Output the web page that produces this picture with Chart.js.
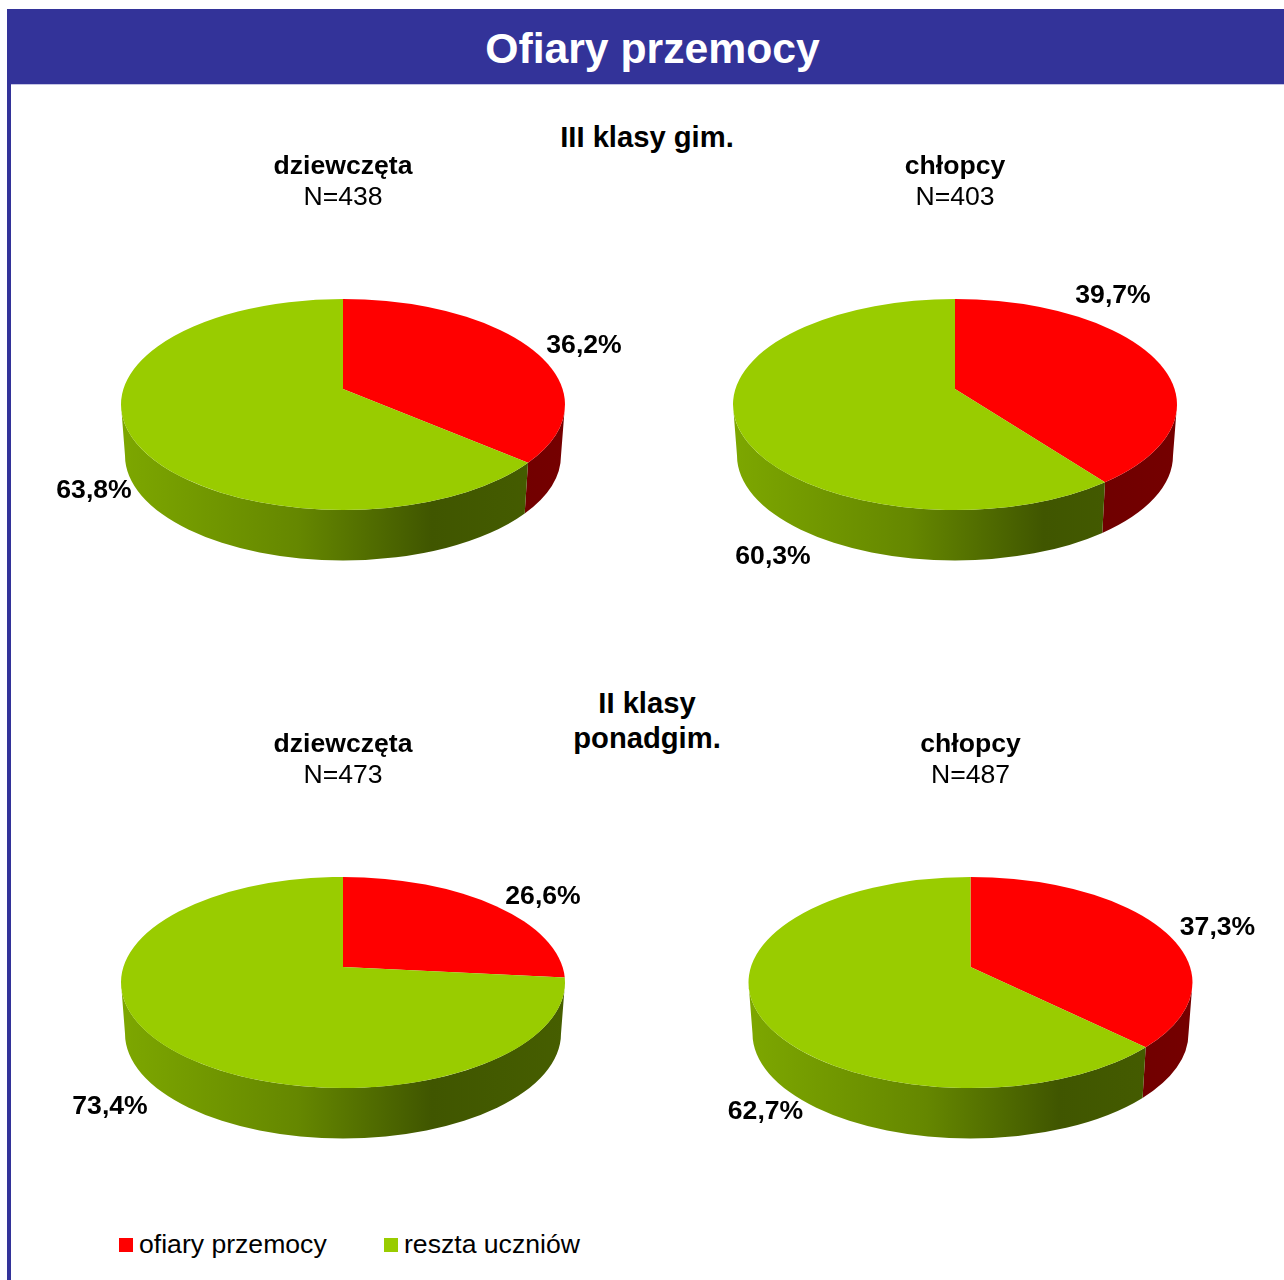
<!DOCTYPE html>
<html lang="pl">
<head>
<meta charset="utf-8">
<title>Ofiary przemocy</title>
<script src="https://cdn.jsdelivr.net/npm/chart.js@4"></script>
<style>
html, body { margin: 0; padding: 0; background: #fff; }
body { width: 1284px; height: 1280px; position: relative; overflow: hidden; font-family: "Liberation Sans", Arial, sans-serif; color: #000; }
.bar { position: absolute; background: #333399; }
.banner-title { position: absolute; left: 20px; width: 1265px; top: 23px; text-align: center; color: #fff; font-size: 42.7px; line-height: 50px; font-weight: bold; }
.section { position: absolute; left: 447px; width: 400px; text-align: center; font-size: 29.2px; line-height: 35px; font-weight: bold; }
canvas { position: absolute; }
.legend-box { position: absolute; width: 14px; height: 14px; }
.legend-text { position: absolute; font-size: 26.6px; line-height: 32px; white-space: nowrap; }
</style>
</head>
<body>
<div class="bar" style="left:7px;top:9px;width:1277px;height:75px"></div>
<div class="bar" style="left:7px;top:84px;width:4px;height:1196px"></div>
<div style="position:absolute;left:11px;top:84px;width:1273px;height:1px;background:#c4c4e4"></div>
<div class="banner-title">Ofiary przemocy</div>
<div class="section" style="top:120px">III klasy gim.</div>
<div class="section" style="top:686px">II klasy<br>ponadgim.</div>
<canvas id="pie0" width="620" height="470" style="left:33px;top:145px"></canvas>
<canvas id="pie1" width="620" height="470" style="left:645px;top:145px"></canvas>
<canvas id="pie2" width="620" height="470" style="left:33px;top:723px"></canvas>
<canvas id="pie3" width="621" height="470" style="left:660px;top:723px"></canvas>
<div id="legend"></div>
<script>
const seriesLabels = ["ofiary przemocy", "reszta uczniów"];
const seriesColors = ["#ff0000", "#99cc00"];

const groups = ["dziewczęta", "chłopcy", "dziewczęta", "chłopcy"];
const counts = ["N=438", "N=403", "N=473", "N=487"];
const victims = [36.2, 39.7, 26.6, 37.3];
const others = [63.8, 60.3, 73.4, 62.7];

// label centres relative to the pie centre, [victims, others]
const labelOffsets = [
    [[241, -59], [-249, 86]],
    [[158, -109], [-182, 152]],
    [[200, -86], [-233, 124]],
    [[247, -55], [-205, 129]]
];

const RX = 222;
const RY = 105.5;
const PIE_TOP = 154;      // top of the ellipse from the canvas top
const TILT = -0.147;      // perspective shift of the pie centre
const WALL_DROP = 51;
const WALL_RX = 218;
const WALL_RY = 105;

const LABEL_FONT = "bold 26.6px 'Liberation Sans', Arial, sans-serif";

function shade(hex, f) {
    const n = parseInt(hex.slice(1), 16);
    const r = Math.round(((n >> 16) & 255) * f);
    const g = Math.round(((n >> 8) & 255) * f);
    const b = Math.round((n & 255) * f);
    return "rgb(" + r + "," + g + "," + b + ")";
}

// disc angle -> angle on the ellipse seen in perspective
function warp(angle) {
    const u = Math.cos(angle);
    const v = Math.sin(angle);
    const d = 1 + TILT * v;
    return Math.atan2((v + TILT) / d, u * Math.sqrt(1 - TILT * TILT) / d);
}

function wallGradient(ctx, cx, color) {
    const g = ctx.createLinearGradient(cx - RX, 0, cx + RX, 0);
    g.addColorStop(0, shade(color, 0.82));
    g.addColorStop(0.4, shade(color, 0.66));
    g.addColorStop(0.7, shade(color, 0.42));
    g.addColorStop(1, shade(color, 0.46));
    return g;
}

const pie3d = {
    id: "pie3d",
    beforeDatasetDraw(chart, args) {
        const ctx = chart.ctx;
        const colors = chart.data.datasets[0].backgroundColor;
        const arcs = args.meta.data;
        const cx = arcs[0].x;
        const cy = PIE_TOP + RY;
        const wallCy = cy + WALL_DROP;

        const spans = arcs.map(a => {
            let start = warp(a.startAngle);
            let end = warp(a.endAngle);
            if (end <= start) end += Math.PI * 2;
            return [start, end];
        });

        // side wall first, only the front half shows
        spans.forEach((s, i) => {
            const from = Math.max(s[0], 0);
            const to = Math.min(s[1], Math.PI);
            if (to <= from) return;
            ctx.beginPath();
            ctx.ellipse(cx, cy, RX, RY, 0, from, to);
            ctx.ellipse(cx, wallCy, WALL_RX, WALL_RY, 0, to, from, true);
            ctx.closePath();
            ctx.fillStyle = wallGradient(ctx, cx, colors[i]);
            ctx.fill();
        });

        // top face
        spans.forEach((s, i) => {
            ctx.beginPath();
            ctx.moveTo(cx, cy + TILT * RY);
            ctx.ellipse(cx, cy, RX, RY, 0, s[0], s[1]);
            ctx.closePath();
            ctx.fillStyle = colors[i];
            ctx.fill();
        });
        return false;
    },
    afterDatasetsDraw(chart) {
        const ctx = chart.ctx;
        const values = chart.data.datasets[0].data;
        const cx = chart.getDatasetMeta(0).data[0].x;
        const cy = PIE_TOP + RY;
        const offsets = chart.options.plugins.pie3d.offsets;
        ctx.save();
        ctx.font = LABEL_FONT;
        ctx.fillStyle = "#000";
        ctx.textAlign = "center";
        ctx.textBaseline = "middle";
        values.forEach((v, i) => {
            ctx.fillText(v.toFixed(1).replace(".", ",") + "%", cx + offsets[i][0], cy + offsets[i][1]);
        });
        ctx.restore();
    }
};

groups.forEach((group, i) => {
    new Chart(document.getElementById("pie" + i), {
        type: "pie",
        plugins: [pie3d],
        data: {
            labels: seriesLabels,
            datasets: [{
                data: [victims[i], others[i]],
                backgroundColor: seriesColors,
                borderWidth: 0
            }]
        },
        options: {
            responsive: false,
            animation: false,
            radius: RX,
            plugins: {
                legend: { display: false },
                tooltip: { enabled: false },
                title: {
                    display: true,
                    text: group,
                    color: "#000",
                    font: { family: "'Liberation Sans', Arial, sans-serif", size: 26.6, weight: "bold", lineHeight: 1.2 },
                    padding: { top: 6, bottom: 0 }
                },
                subtitle: {
                    display: true,
                    text: counts[i],
                    color: "#000",
                    font: { family: "'Liberation Sans', Arial, sans-serif", size: 26.6, weight: "normal", lineHeight: 1.1 },
                    padding: { top: 0, bottom: 0 }
                },
                pie3d: { offsets: labelOffsets[i] }
            }
        }
    });
});

// legend under the pies
const legendEl = document.getElementById("legend");
const legendX = [119, 384];
seriesLabels.forEach((label, i) => {
    const box = document.createElement("div");
    box.className = "legend-box";
    box.style.left = legendX[i] + "px";
    box.style.top = "1238px";
    box.style.background = seriesColors[i];
    legendEl.appendChild(box);
    const text = document.createElement("div");
    text.className = "legend-text";
    text.style.left = (legendX[i] + 20) + "px";
    text.style.top = "1228px";
    text.textContent = label;
    legendEl.appendChild(text);
});
</script>
</body>
</html>
